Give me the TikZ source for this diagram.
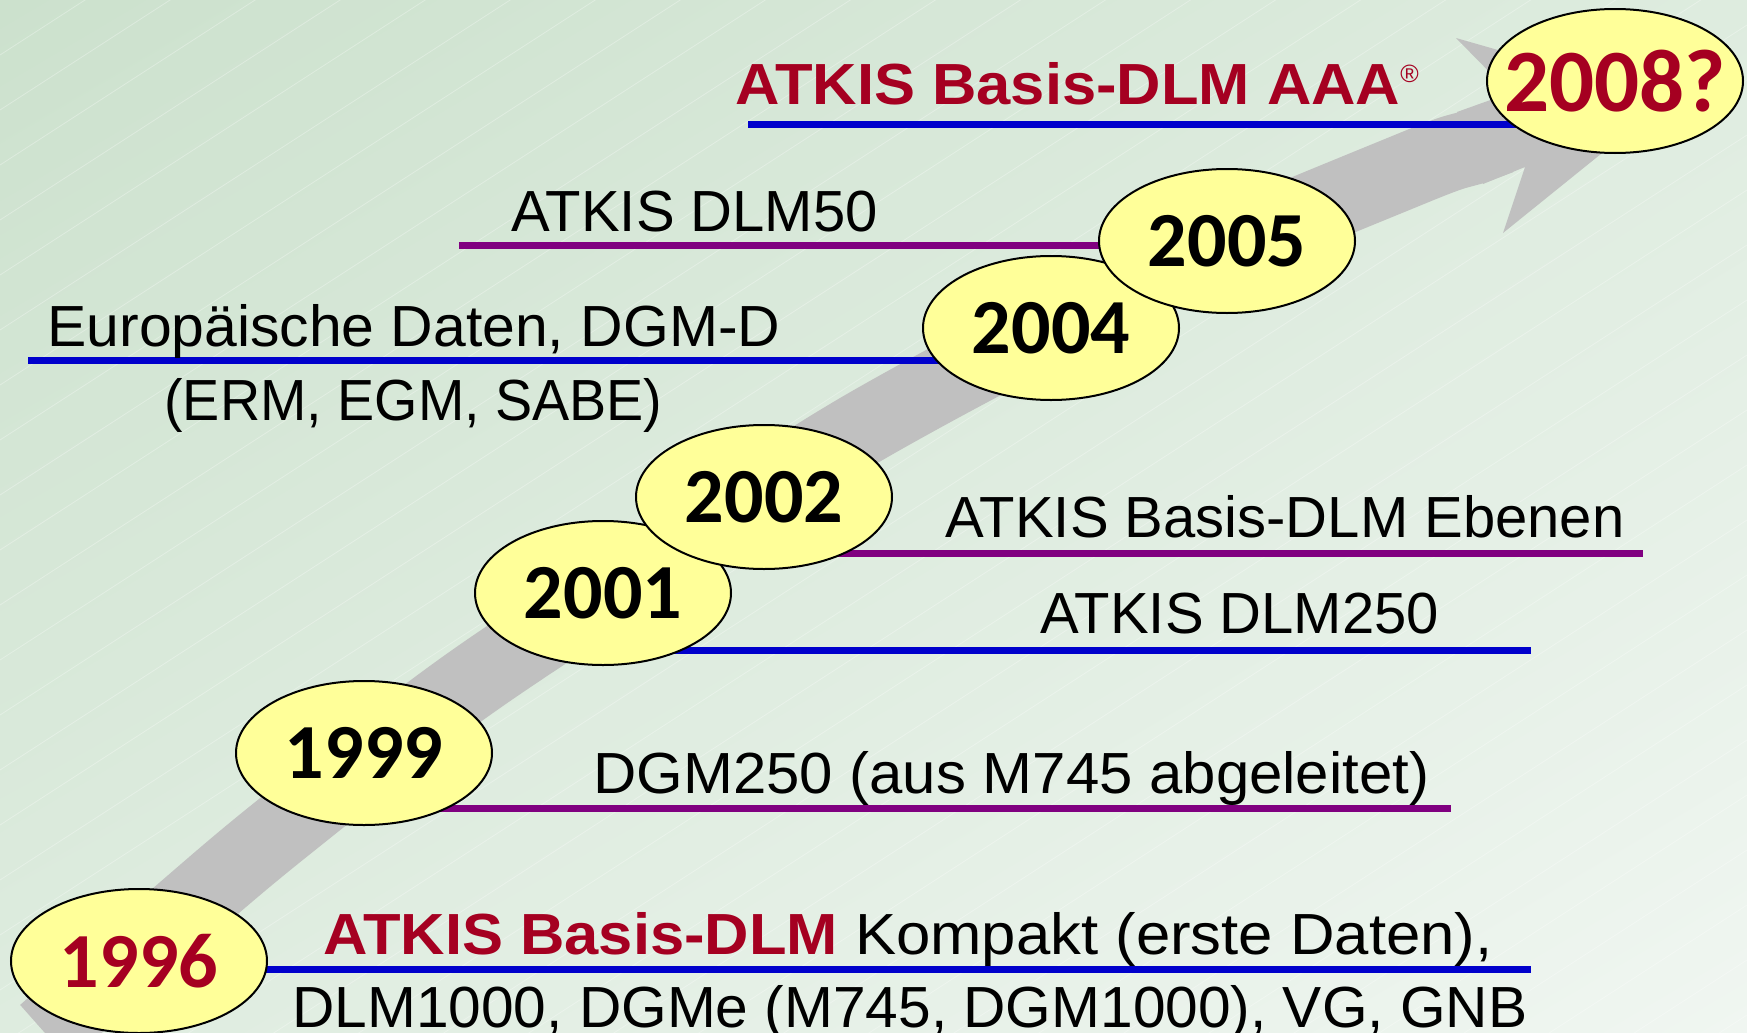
\documentclass[tikz,border=0pt]{standalone}
\usepackage{fontspec}
\setmainfont{Liberation Sans}
\newfontfamily\yearfont{Carlito}
\newfontfamily\boldlbl[FakeStretch=1.06]{Liberation Sans}
\usetikzlibrary{shapes.geometric,shadings}
\definecolor{atkred}{RGB}{165,0,33}
\definecolor{lineblue}{RGB}{0,0,204}
\definecolor{linepurple}{RGB}{128,0,128}
\definecolor{ellfill}{RGB}{255,255,153}
\definecolor{arrowgray}{RGB}{192,192,192}
\definecolor{bgA}{RGB}{204,225,205}
\definecolor{bgB}{RGB}{222,236,223}
\definecolor{bgC}{RGB}{240,246,241}
\begin{document}
\begin{tikzpicture}[x=0.5pt,y=-0.5pt,
  yr/.style={ellipse,draw=black,line width=1pt,fill=ellfill,minimum width=128pt,minimum height=72pt,inner sep=0pt,font=\yearfont\bfseries\fontsize{39pt}{39pt}\selectfont},
  lbl/.style={anchor=base west,inner sep=0pt,font=\fontsize{29pt}{29pt}\selectfont},
  lblb/.style={lbl,text=atkred,font=\boldlbl\bfseries\fontsize{29pt}{29pt}\selectfont},
  bl/.style={draw=lineblue,line width=3.5pt},
  pl/.style={draw=linepurple,line width=3.5pt}]
\useasboundingbox (0,0) rectangle (1747,1033);
\clip (0,0) rectangle (1747,1033);
% background
\shade[upper left=bgA, upper right=bgB, lower left=bgB, lower right=bgC] (0,0) rectangle (1747,1033);
\foreach \c in {55,110,...,2200}
  \draw[white,opacity=0.3,line width=0.4pt] (0,\c) -- (1747,\c-1130);
% ellipse centres
\coordinate (c1996) at (139,961);
\coordinate (c1999) at (364,753);
\coordinate (c2001) at (603,593);
\coordinate (c2002) at (764,497);
\coordinate (c2004) at (1051,328);
\coordinate (c2005) at (1227,241);
\coordinate (c2008) at (1615,81);
% grey arrow
\draw[arrowgray,line width=37.5pt] plot[smooth,tension=0.55] coordinates {(45,1033) (177,917) (284,827) (469,684) (700,532) (877,420) (1130,288) (1413,168) (1470,148) (1500,137)};
\fill[arrowgray] (1457,112) -- (1510,93) -- (1456,38) -- (1669,99) -- (1503,233) -- (1525,167) -- (1483,184) -- cycle;
% line end points
\coordinate (aS) at (748,124);
\coordinate (dS) at (459,245);
\coordinate (eS) at (28,360);
\coordinate (bE) at (1643,553);
\coordinate (fE) at (1531,650);
\coordinate (gE) at (1451,808);
\coordinate (kE) at (1531,969);
\draw[bl] (aS) -- (aS -| c2008);
\draw[pl] (dS) -- (dS -| c2005);
\draw[bl] (eS) -- (eS -| c2004);
\draw[pl] (bE -| c2002) -- (bE);
\draw[bl] (fE -| c2001) -- (fE);
\draw[pl] (gE -| c1999) -- (gE);
\draw[bl] (kE -| c1996) -- (kE);
% year ellipses
\node[yr] (y1996) at (c1996) {\textcolor{atkred}{1996}};
\node[yr] (y1999) at (c1999) {1999};
\node[yr] (y2001) at (c2001) {2001};
\node[yr] (y2002) at (c2002) {2002};
\node[yr] (y2004) at (c2004) {2004};
\node[yr] (y2005) at (c2005) {2005};
\node[yr,inner xsep=-16pt,font=\yearfont\bfseries\fontsize{44.5pt}{44.5pt}\selectfont] (y2008) at (c2008) {\textcolor{atkred}{2008?}};
% labels
\node[lblb] (tAAA) at (735,104) {ATKIS Basis-DLM AAA\raisebox{11pt}{\normalfont\fontsize{12.5pt}{12.5pt}\selectfont ®}};
\node[lbl] (tD50) at (511,231) {ATKIS DLM50};
\node[lbl] (tEur) at (47,346) {\scalebox{1.015}[1]{Europäische Daten, DGM-D}};
\node[lbl] (tErm) at (164,420) {\scalebox{0.96}[1]{(ERM, EGM, SABE)}};
\node[lbl] (tEbe) at (945,537) {ATKIS Basis-DLM Ebenen};
\node[lbl] (tD250) at (1040,633) {ATKIS DLM250};
\node[lbl] (tDGM) at (593,793) {\scalebox{1.033}[1]{DGM250 (aus M745 abgeleitet)}};
\node[lbl] (tKom) at (323,954) {\textcolor{atkred}{\boldlbl\bfseries ATKIS Basis-DLM}\scalebox{1.063}[1]{ Kompakt (erste Daten),}};
\node[lbl] (tDLM) at (292,1027) {\scalebox{1.011}[1]{DLM1000, DGMe (M745, DGM1000), VG, GNB}};
\end{tikzpicture}
\end{document}
